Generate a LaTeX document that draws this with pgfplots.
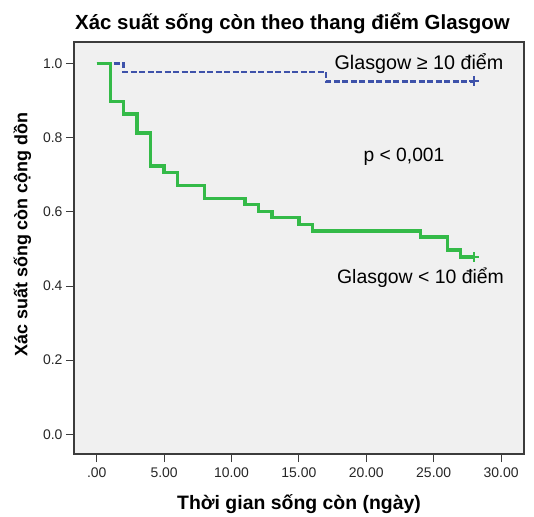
\documentclass[border=0pt]{standalone}
\usepackage{fontspec}
\setmainfont{Liberation Sans}
\usepackage{pgfplots}
\pgfplotsset{compat=1.18}
\definecolor{kmgreen}{RGB}{52,186,72}
\definecolor{kmblue}{RGB}{62,82,170}
\definecolor{bgfill}{RGB}{240,240,240}
\definecolor{framec}{RGB}{60,60,60}
\begin{document}
\begin{tikzpicture}
\begin{axis}[
  at={(0,0)}, anchor=south west,
  scale only axis, width=450bp, height=412bp,
  xmin=-1.684, xmax=31.70, ymin=-0.053, ymax=1.058,
  axis background/.style={fill=bgfill},
  axis line style={framec, line width=1.2bp},
  xtick={0,5,10,15,20,25,30},
  xticklabels={.00,5.00,10.00,15.00,20.00,25.00,30.00},
  ytick={0,0.2,0.4,0.6,0.8,1.0},
  yticklabels={0.0,0.2,0.4,0.6,0.8,1.0},
  tick pos=left, tick align=outside,
  major tick length=8bp,
  tick style={framec, line width=1bp},
  ticklabel style={font=\fontsize{14}{16}\selectfont, text=black!85},
  xticklabel style={yshift=-2bp},
  clip=false,
]
\addplot[kmblue, line width=2.6bp, dash pattern=on 6bp off 2.5bp, const plot] coordinates {
(0,1) (2,0.977) (17,0.952) (28,0.952)};
\addplot[kmgreen, line width=3.3bp, const plot] coordinates {
(0,1) (1,0.898) (2,0.864) (3,0.813) (4,0.724) (5,0.707) (6,0.671) (8,0.636)
(11,0.619) (12,0.601) (13,0.584) (15,0.565) (16,0.548) (24,0.532) (26,0.497)
(27,0.478) (28,0.478)};
\addplot[kmblue, only marks, mark=+, mark size=5bp, line width=2.2bp] coordinates {(28,0.952)};
\addplot[kmgreen, only marks, mark=+, mark size=5bp, line width=2.6bp] coordinates {(28,0.478)};
\end{axis}
\node[anchor=base] at (218.5bp,424.5bp) {\fontsize{20.5}{22}\selectfont\bfseries Xác suất sống còn theo thang điểm Glasgow};
\node[anchor=base] at (225bp,-55bp) {\fontsize{19.5}{21}\selectfont\bfseries Thời gian sống còn (ngày)};
\node[anchor=base, rotate=90] at (-46.5bp,219.5bp) {\fontsize{18}{20}\selectfont\bfseries Xác suất sống còn cộng dồn};
\node[anchor=base] at (345bp,384bp) {\fontsize{19.8}{21}\selectfont Glasgow ≥ 10 điểm};
\node[anchor=base] at (330bp,292.3bp) {\fontsize{19.3}{21}\selectfont p < 0,001};
\node[anchor=base] at (346.5bp,170bp) {\fontsize{19.5}{21}\selectfont Glasgow < 10 điểm};
\pgfresetboundingbox
\path (-74bp,-63bp) rectangle (460bp,454bp);
\end{tikzpicture}
\end{document}
